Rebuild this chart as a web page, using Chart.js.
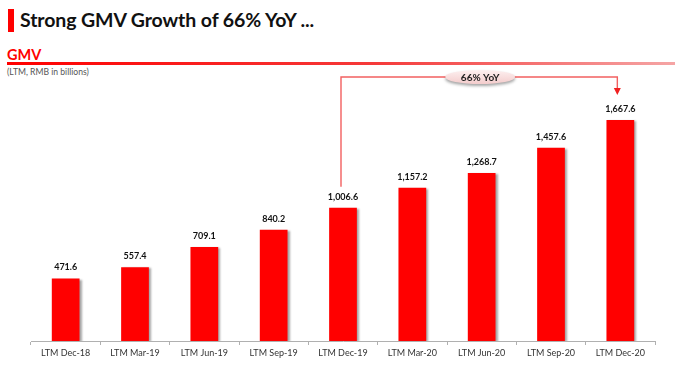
<!DOCTYPE html>
<html><head><meta charset="utf-8">
<script src="https://cdn.jsdelivr.net/npm/chart.js@4"></script>
<style>
html,body{margin:0;padding:0;background:#fff;}
#wrap{position:relative;width:675px;height:367px;overflow:hidden;font-family:Lato,"Open Sans",sans-serif;}
#bar{position:absolute;left:8px;top:9px;width:6px;height:23px;background:#ff0000;}
#title{position:absolute;left:20px;top:8px;font-size:19.5px;font-weight:bold;color:#111;white-space:nowrap;letter-spacing:-0.1px;}
#sub{position:absolute;left:7px;top:46px;font-size:14.5px;font-weight:bold;color:#ff0000;}
#rule{position:absolute;left:7px;top:62px;width:668px;height:3px;background:linear-gradient(to right,#ff0000 0%,#f53a3a 55%,#f5a5a5 100%);}
#unit{position:absolute;left:7px;top:67px;font-size:8.6px;color:#555;}
canvas{position:absolute;left:0;top:0;}
</style></head>
<body><div id="wrap">
<div id="bar"></div>
<div id="title">Strong GMV Growth of 66% YoY ...</div>
<div id="sub">GMV</div>
<div id="rule"></div>
<div id="unit">(LTM, RMB in billions)</div>
<canvas id="c" width="675" height="367"></canvas>
</div>
<script>
const categories = ["LTM Dec-18","LTM Mar-19","LTM Jun-19","LTM Sep-19","LTM Dec-19","LTM Mar-20","LTM Jun-20","LTM Sep-20","LTM Dec-20"];
const gmv = [471.6, 557.4, 709.1, 840.2, 1006.6, 1157.2, 1268.7, 1457.6, 1667.6];
const yoyLabel = "66% YoY";
const yoyFrom = 4, yoyTo = 8;

const fmt = v => v.toLocaleString('en-US',{minimumFractionDigits:1,maximumFractionDigits:1});

const shadowPlugin = {
  id:'shadow',
  beforeDatasetsDraw(chart){ const c=chart.ctx; c.save(); c.shadowColor='rgba(0,0,0,0.35)'; c.shadowOffsetX=2; c.shadowOffsetY=1; c.shadowBlur=2; },
  afterDatasetsDraw(chart){ chart.ctx.restore(); }
};
const labelPlugin = {
  id:'labels',
  afterDatasetsDraw(chart){
    const c=chart.ctx, meta=chart.getDatasetMeta(0);
    c.save();
    c.font='bold 9px Lato, "Open Sans", sans-serif';
    c.fillStyle='#111'; c.textAlign='center'; c.textBaseline='middle';
    meta.data.forEach((b,i)=>{ c.fillText(fmt(gmv[i]), b.x, b.y-11); });
    // annotation
    const a=meta.data[yoyFrom], z=meta.data[yoyTo];
    const yTop=77;
    const x1=a.x-2, x2=z.x-3;
    c.strokeStyle='#f26060'; c.lineWidth=1.4;
    c.beginPath();
    c.moveTo(x1, a.y-21); c.lineTo(x1, yTop); c.lineTo(x2, yTop); c.lineTo(x2, 89);
    c.stroke();
    c.fillStyle='#f02020';
    c.beginPath(); c.moveTo(x2-3.5,88); c.lineTo(x2+3.5,88); c.lineTo(x2,95); c.closePath(); c.fill();
    // ellipse label
    const cx=(x1+x2)/2+1, cy=yTop;
    c.save();
    c.shadowColor='rgba(0,0,0,0.35)'; c.shadowOffsetY=2; c.shadowBlur=3;
    const g=c.createLinearGradient(0,cy-7,0,cy+7);
    g.addColorStop(0,'#fdf0f0'); g.addColorStop(1,'#f3cccc');
    c.fillStyle=g;
    c.beginPath(); c.ellipse(cx,cy,35,7,0,0,Math.PI*2); c.fill();
    c.restore();
    c.fillStyle='#222'; c.font='bold 10px Lato, "Open Sans", sans-serif';
    c.fillText(yoyLabel, cx, cy+0.5);
    c.restore();
  }
};

new Chart(document.getElementById('c'),{
  type:'bar',
  data:{labels:categories,datasets:[{data:gmv,backgroundColor:'#ff0000',borderWidth:0,categoryPercentage:1,barPercentage:0.4}]},
  options:{
    responsive:false,animation:false,
    layout:{padding:{left:31,right:20,top:76,bottom:0}},
    plugins:{legend:{display:false},tooltip:{enabled:false}},
    scales:{
      y:{display:false,min:0,max:2000},
      x:{
        afterFit(s){ s.height=26; },
        grid:{drawOnChartArea:false,drawTicks:true,tickLength:4,color:'#b0b0b0'},
        border:{display:true,color:'#b0b0b0',width:1},
        ticks:{color:'#333',font:{family:'Lato, "Open Sans", sans-serif',size:9},padding:3,maxRotation:0,autoSkip:false}
      }
    }
  },
  plugins:[shadowPlugin,labelPlugin]
});
</script>
</body></html>
